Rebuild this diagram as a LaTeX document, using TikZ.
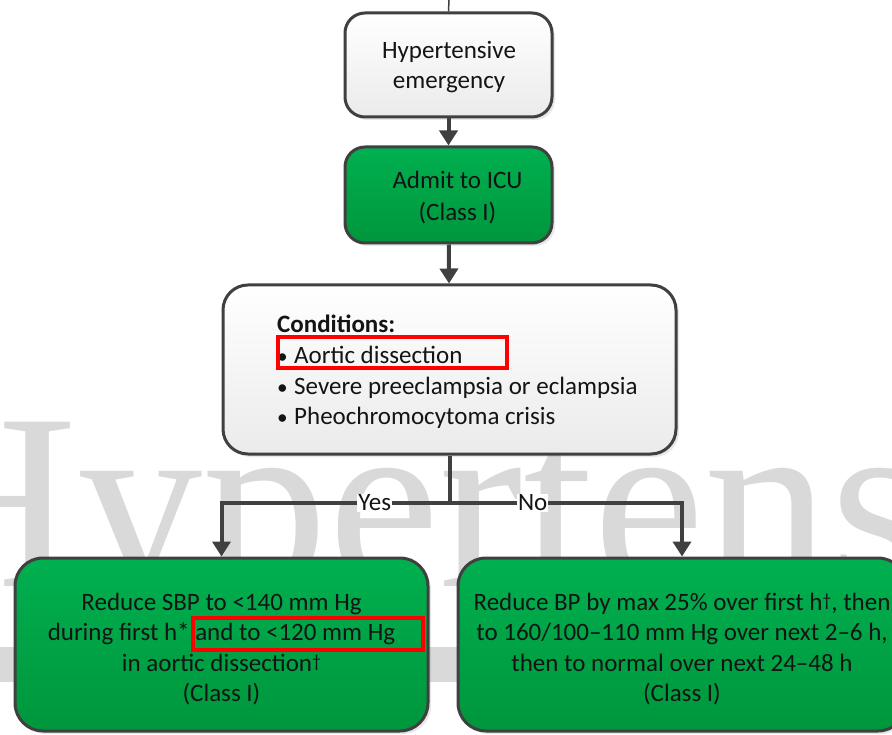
\documentclass[tikz,border=0pt]{standalone}
\usepackage{fontspec}
\setmainfont{Carlito}
\newfontfamily\wmfont{Liberation Serif}
\usetikzlibrary{arrows.meta,shadows}
\definecolor{edge}{HTML}{404040}
\definecolor{gtop}{HTML}{00B050}
\definecolor{gbot}{HTML}{00963C}
\definecolor{wm}{HTML}{D9D9D9}
\definecolor{ink}{HTML}{141414}
\newcommand{\dagmark}{\raisebox{0.35ex}{\fontsize{18}{18}\selectfont †}}
\begin{document}
\begin{tikzpicture}[x=1pt,y=-1pt,
  box/.style={draw=edge, line width=3pt, rounded corners=20pt,
    drop shadow={shadow xshift=3pt,shadow yshift=-3pt,opacity=0.18}, inner sep=0pt},
  lightbox/.style={box, top color=white, bottom color=black!8},
  greenbox/.style={box, top color=gtop, bottom color=gbot},
  boxtext/.style={align=center, text=ink, inner sep=0pt, font=\fontsize{25}{30.5}\selectfont},
  conn/.style={draw=edge, line width=4pt},
  arrowline/.style={conn, -{Triangle[width=18pt,length=15pt]}},
  branchlabel/.style={fill=white, inner sep=1pt, text=ink, font=\fontsize{25}{30}\selectfont},
  redframe/.style={draw=red, line width=3.3pt},
  watermark/.style={anchor=base west, inner sep=0pt, text=wm, font=\wmfont\fontsize{251}{251}\selectfont}
]
\clip (0,0) rectangle (892,735);
% background watermark
\node[watermark] (wmark) at (-104,586) {Hypertens};
\fill[wm] (0,647) rectangle (892,682);

% boxes
\node[lightbox, minimum width=207pt, minimum height=104pt] (emerg) at (448.5,65) {};
\node[boxtext] (emergtext) at (449,67) {Hypertensive\\emergency};
\node[greenbox, minimum width=207pt, minimum height=96pt] (icu) at (448.5,195) {};
\node[boxtext] (icutext) at (457.5,198) {Admit to ICU\\[1.5pt](Class I)};
\node[lightbox, minimum width=453pt, minimum height=169pt, rounded corners=25pt] (cond) at (449.5,369.5) {};
\node[anchor=west, align=left, text=ink, inner sep=0pt, font=\fontsize{25}{30.7}\selectfont] (condtext) at (277,372)
  {\textbf{Conditions:}\\
   \makebox[17pt][l]{\scalebox{0.85}{•}}Aortic dissection\\
   \makebox[17pt][l]{\scalebox{0.85}{•}}Severe preeclampsia or eclampsia\\
   \makebox[17pt][l]{\scalebox{0.85}{•}}Pheochromocytoma crisis};
\node[greenbox, minimum width=413pt, minimum height=173pt, rounded corners=28pt] (yesbox) at (221.5,644.5) {};
\node[boxtext] (yestext) at (221.5,649)
  {Reduce SBP to <140 mm Hg\\during first h* and to <120 mm Hg\\in aortic dissection\dagmark\\(Class I)};
\node[greenbox, minimum width=448pt, minimum height=173pt, rounded corners=28pt] (nobox) at (682,644.5) {};
\node[boxtext] (notext) at (682,649)
  {Reduce BP by max 25\% over first h\dagmark, then\\to 160/100–110 mm Hg over next 2–6 h,\\then to normal over next 24–48 h\\(Class I)};

% connectors
\coordinate (topin) at (449,0);
\draw[conn, line width=1.5pt] (topin) -- (emerg.north);
\draw[arrowline] (emerg) -- (icu);
\draw[arrowline] (icu) -- (cond);
\coordinate (split) at (449.5,503);
\draw[conn] (cond.south) -- (split);
\draw[arrowline] (split) -| node[branchlabel, pos=0.164] (yes) {Yes} (yesbox.north);
\draw[arrowline] (split) -| node[branchlabel, pos=0.179] (no) {No} (nobox.north);

% highlight frames
\draw[redframe] (278,337) rectangle (507,368);
\draw[redframe] (193,618) rectangle (423,650);
\end{tikzpicture}
\end{document}
